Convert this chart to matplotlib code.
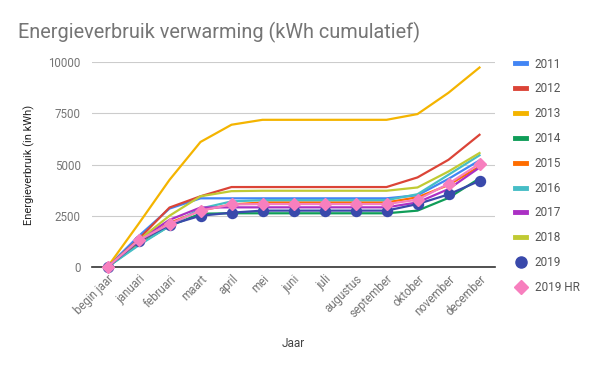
import matplotlib
matplotlib.use("Agg")
import matplotlib.pyplot as plt
from matplotlib.lines import Line2D

plt.rcParams['font.family'] = ['Roboto', 'DejaVu Sans']

months = ["begin jaar", "januari", "februari", "maart", "april", "mei", "juni",
          "juli", "augustus", "september", "oktober", "november", "december"]

s2011 = [0, 1500, 2850, 3350, 3350, 3350, 3350, 3350, 3350, 3350, 3500, 4300, 5200]
s2012 = [0, 1350, 2900, 3450, 3900, 3900, 3900, 3900, 3900, 3900, 4370, 5230, 6450]
s2013 = [0, 2100, 4250, 6100, 6940, 7180, 7180, 7180, 7180, 7180, 7460, 8500, 9730]
s2014 = [0, 1100, 2000, 2600, 2620, 2620, 2620, 2620, 2620, 2620, 2750, 3370, 4320]
s2015 = [0, 1200, 2150, 2750, 3050, 3150, 3150, 3150, 3150, 3150, 3400, 4000, 4900]
s2016 = [0, 1050, 2000, 2850, 3200, 3260, 3260, 3260, 3260, 3260, 3550, 4500, 5450]
s2017 = [0, 1300, 2300, 2900, 2910, 2910, 2910, 2910, 2910, 2910, 3150, 3800, 4850]
s2018 = [0, 1300, 2500, 3450, 3700, 3720, 3720, 3720, 3720, 3720, 3880, 4660, 5560]
s2019 = [0, 1250, 2050, 2500, 2650, 2750, 2750, 2750, 2750, 2750, 3070, 3540, 4200]
s2019hr = [0, 1300, 2100, 2750, 3050, 3070, 3070, 3070, 3070, 3070, 3280, 4060, 5040]

labels = ["2011", "2012", "2013", "2014", "2015", "2016", "2017", "2018", "2019", "2019 HR"]
series = [s2011, s2012, s2013, s2014, s2015, s2016, s2017, s2018, s2019, s2019hr]
colors = ["#4285f4", "#db4437", "#f4b400", "#0f9d58", "#ff6d00", "#46bdc6",
          "#ab30c4", "#c0ca33", "#3949ab", "#f77fbe"]
markers = [None] * 8 + ["o", "D"]

fig = plt.figure(figsize=(6, 3.71), dpi=100)
ax = fig.add_axes([92/600, 1 - 267/371, 403/600, 205/371])

x = list(range(len(months)))
handles = []
for lab, ys, c, m in zip(labels, series, colors, markers):
    if m == "o":
        ax.plot(x, ys, color=c, lw=1.6, marker="o", ms=7.2, clip_on=False, zorder=3)
        handles.append(Line2D([], [], color=c, marker="o", ls="none", ms=8))
    elif m == "D":
        ax.plot(x, ys, color=c, lw=1.6, marker="D", ms=6.2, clip_on=False, zorder=4)
        handles.append(Line2D([], [], color=c, marker="D", ls="none", ms=6.8))
    else:
        ax.plot(x, ys, color=c, lw=1.6, clip_on=False, zorder=2)
        handles.append(Line2D([], [], color=c, lw=3.5))

ax.set_xlim(-0.5, 12.5)
ax.set_ylim(0, 10000)
ax.set_yticks([0, 2500, 5000, 7500, 10000])
ax.set_xticks(x)
ax.set_xticklabels(months, rotation=45, ha="right", rotation_mode="anchor")
ax.tick_params(axis="both", length=0, labelsize=8.3, labelcolor="#757575")
ax.tick_params(axis="x", pad=4)
ax.tick_params(axis="y", pad=8)
ax.grid(axis="y", color="#cccccc", lw=0.8)
ax.set_axisbelow(True)
for sp in ["top", "right", "left"]:
    ax.spines[sp].set_visible(False)
ax.spines["bottom"].set_color("#333333")
ax.spines["bottom"].set_linewidth(1.2)
ax.spines["bottom"].set_zorder(1)

ax.set_xlabel("Jaar", fontsize=8.5, color="#444444", labelpad=12)
ax.set_ylabel("Energieverbruik (in kWh)", fontsize=8, color="#222222", labelpad=10)

fig.text(18/600, 1 - 32/371, "Energieverbruik verwarming (kWh cumulatief)",
         fontsize=14.3, color="#757575", va="center", ha="left")

leg = fig.legend(handles, labels, loc="upper left", bbox_to_anchor=(504/600, 1 - 47/371),
                 frameon=False, fontsize=8.5, labelcolor="#555555",
                 handlelength=1.0, handletextpad=0.7, labelspacing=1.0)

fig.savefig("out.png", dpi=100)
